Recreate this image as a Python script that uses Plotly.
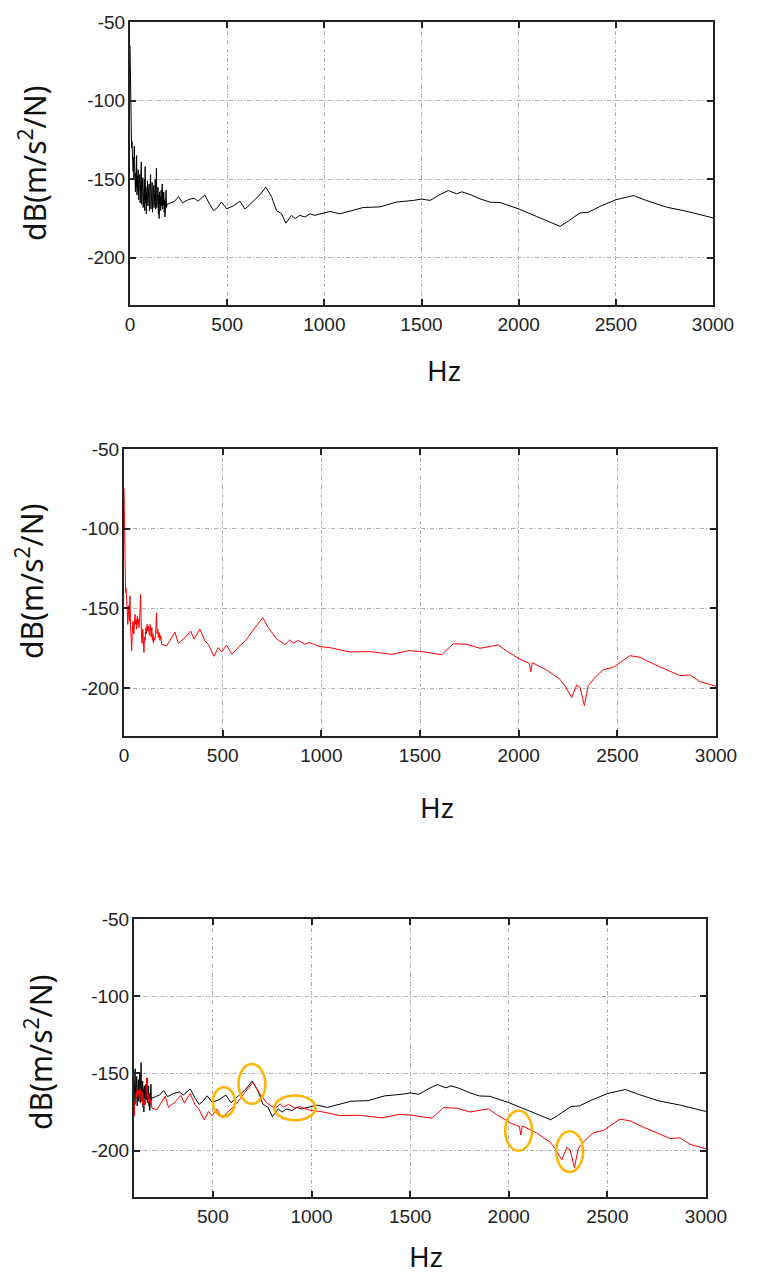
import plotly.graph_objects as go

# ---------------- data ----------------
black_low_hz = [0, 2, 4, 6, 8, 10, 12, 14, 16, 18, 20, 22, 24, 26, 28, 30, 32, 34, 36, 38,
                40, 42, 44, 46, 48, 50, 52, 54, 56, 58, 60, 62, 64, 66, 68, 70, 72, 74, 76,
                78, 80, 82, 84, 86, 88, 90, 92, 94, 96, 98, 100, 102, 104, 106, 108, 110,
                112, 114, 116, 118, 120, 122, 124, 126, 128, 130, 132, 134, 136, 138, 140,
                142, 144, 146, 148, 150, 152, 154, 156, 158, 160, 162, 164, 166, 168, 170,
                172, 174, 176, 178, 180, 182, 184, 186, 188]
black_low_db = [-65, -95, -112, -121, -130, -126, -138, -131, -145, -136, -150, -129, -152,
                -140, -158, -146, -155, -135, -160, -148, -157, -144, -163, -150, -158, -147,
                -165, -153, -160, -139, -166, -152, -161, -149, -168, -155, -163, -150, -170,
                -142, -165, -155, -172, -158, -164, -151, -167, -156, -162, -153, -170, -158,
                -164, -147, -169, -156, -163, -152, -171, -158, -165, -154, -168, -160, -166,
                -150, -169, -157, -143, -168, -159, -166, -155, -172, -160, -175, -158, -166,
                -161, -170, -157, -167, -160, -153, -169, -161, -166, -158, -171, -163, -174,
                -160, -167, -157, -168]
black_high_hz = [190, 210, 230, 250, 270, 300, 330, 350, 370, 385, 410, 430, 450, 471, 497,
                 531, 566, 592, 634, 668, 699, 728, 754, 780, 802, 831, 850, 874, 900, 926,
                 950, 977, 1029, 1080, 1149, 1200, 1286, 1372, 1458, 1500, 1544, 1596, 1638,
                 1681, 1707, 1750, 1801, 1853, 1904, 1998, 2093, 2213, 2247, 2316, 2359,
                 2419, 2501, 2591, 2659, 2762, 2865, 3000]
black_high_db = [-166, -165, -164, -161, -165, -163, -162, -164, -162, -160, -166, -170,
                 -168, -164.5, -168.8, -167, -164, -169, -164, -160, -155, -161, -170, -172,
                 -178, -173, -175, -173, -174, -172, -173, -172, -170.5, -172, -169.5, -168,
                 -167.6, -164.5, -163.5, -162.6, -163.5, -159.7, -157.2, -159.3, -158,
                 -159.7, -162.5, -164.6, -164.8, -168.8, -173.7, -180, -177.3, -171.4, -171,
                 -167.3, -163, -160.4, -163.6, -167.8, -170.4, -174.6]

red_low_hz = [0, 2, 4, 6, 8, 10, 13, 16, 19, 22, 25, 28, 30, 33, 36, 39, 42, 45, 47, 50,
              53, 56, 59, 62, 64, 67, 70, 73, 76, 79, 82, 84, 86, 89, 92, 95, 98, 101, 104,
              107, 111, 114, 117, 120, 123, 126, 129, 132, 135, 138, 141, 144, 147, 149,
              152, 156, 160, 163, 165, 168, 171, 174, 178, 182, 186]
red_low_db = [-74.6, -100, -121.5, -128, -140, -137, -142, -150, -160, -154.8, -148, -158,
              -142, -160, -168, -176.6, -165, -158, -161, -166, -155, -153.7, -160, -157,
              -163, -155, -160, -156.9, -162, -158, -150, -141.2, -160, -169, -172, -163,
              -170, -177.7, -168, -170, -162, -166, -160, -164, -161, -163, -167, -160,
              -165.2, -168, -162, -170, -166, -171.5, -168, -170, -166, -160, -152.7, -166,
              -163, -168.3, -165, -170, -167]
red_high_hz = [191, 216, 258, 275, 309, 338, 355, 385, 410, 427, 456, 478, 495, 520, 546,
               571, 622, 655, 703, 731, 774, 816, 841, 858, 883, 917, 939, 993, 1044, 1145,
               1247, 1357, 1442, 1500, 1610, 1669, 1737, 1804, 1897, 1939, 2007, 2054, 2061,
               2069, 2142, 2209, 2235, 2269, 2294, 2311, 2333, 2353, 2387, 2429, 2480, 2564,
               2615, 2683, 2767, 2817, 2868, 2919, 3000]
red_high_db = [-172.5, -173.5, -164.8, -171.9, -168.3, -164.2, -169.2, -163, -170.4, -172.5,
               -180, -174.6, -177.3, -173, -178.7, -175.6, -169.2, -163.5, -155.8, -162,
               -169.2, -172.7, -169.7, -171.8, -170, -172.5, -171.4, -173.9, -174.6, -177.3,
               -177.1, -178.8, -176.5, -176.9, -179, -172.1, -172.5, -175, -172.9, -176.7,
               -181.9, -184.4, -189.8, -184, -188.6, -194.4, -198.6, -205.9, -198, -199.5,
               -210.9, -198.4, -193.2, -188.4, -186.9, -179.6, -180.7, -184.8, -189.6,
               -192.1, -191.7, -195.9, -198.8]

black_hz = black_low_hz + black_high_hz
black_db = black_low_db + black_high_db
red_hz = red_low_hz + red_high_hz
red_db = red_low_db + red_high_db

# highlighted regions in the comparison plot (centre Hz, centre dB, half-width Hz, half-height dB)
mark_hz = [556, 698, 916, 2050, 2309]
mark_db = [-168.4, -156.8, -172.3, -187.1, -200.6]
mark_hw = [56, 68, 104, 68, 68]
mark_hh = [9.4, 12.9, 8.0, 12.9, 13.2]

x_ticks = [0, 500, 1000, 1500, 2000, 2500, 3000]
x_tick_labels = ["0", "500", "1000", "1500", "2000", "2500", "3000"]
y_ticks = [-50, -100, -150, -200]
y_tick_labels = ["-50", "-100", "-150", "-200"]

# ---------------- figure ----------------
# page body has an 8px margin, so the figure is placed inside it
OFF = 8
W, H = 761 - 2 * OFF, 1286 - 2 * OFF
fig = go.Figure()
fig.add_trace(go.Scatter(x=black_hz, y=black_db, mode="lines",
                         line=dict(color="#000000", width=1), xaxis="x", yaxis="y"))
fig.add_trace(go.Scatter(x=red_hz, y=red_db, mode="lines",
                         line=dict(color="#ff0000", width=1), xaxis="x2", yaxis="y2"))
fig.add_trace(go.Scatter(x=black_hz, y=black_db, mode="lines",
                         line=dict(color="#000000", width=1), xaxis="x3", yaxis="y3"))
fig.add_trace(go.Scatter(x=red_hz, y=red_db, mode="lines",
                         line=dict(color="#ff0000", width=1), xaxis="x3", yaxis="y3"))


def px_dom(a, b, total, flip=False):
    a, b = a - OFF, b - OFF
    if flip:
        return [1 - b / total, 1 - a / total]
    return [a / total, b / total]


tickfont = dict(family="Liberation Sans, Arial", size=19, color="#222222")
common_ax = dict(showline=True, linecolor="#222222", linewidth=2, mirror="allticks",
                 ticks="inside", ticklen=6, tickwidth=2, tickcolor="#222222",
                 showgrid=True, gridcolor="#b0b0b0", gridwidth=1,
                 griddash="4px,2px,1px,2px", zeroline=False, tickfont=tickfont,
                 automargin=False)

panels = [
    # (x px range, y px range, x range)
    ((130, 713), (22, 305), [0, 3000]),
    ((124, 716), (449, 736), [0, 3000]),
    ((134, 706), (919, 1197), [100, 3000]),
]
layout_axes = {}
for i, ((x0, x1), (y0, y1), xr) in enumerate(panels):
    sfx = "" if i == 0 else str(i + 1)
    tv = [t for t in x_ticks if t >= xr[0]]
    tt = [lab for t, lab in zip(x_ticks, x_tick_labels) if t >= xr[0]]
    layout_axes["xaxis" + sfx] = dict(common_ax, domain=px_dom(x0, x1, W), range=xr,
                                      tickvals=tv, ticktext=tt,
                                      anchor="y" + sfx, ticklabelstandoff=1)
    layout_axes["yaxis" + sfx] = dict(common_ax, domain=px_dom(y0, y1, H, flip=True),
                                      range=[-230, -50], tickvals=y_ticks,
                                      ticktext=y_tick_labels,
                                      anchor="x" + sfx, ticklabelstandoff=-1)

fig.update_layout(**layout_axes)

title_font = dict(family="Noto Sans, DejaVu Sans", size=30, color="#111111")
hz_font = dict(family="Noto Sans, DejaVu Sans", size=28, color="#111111")
ytitle_pos = [(33, 163), (30, 581), (39, 1052)]
xtitle_pos = [(444, 370), (437, 807), (426, 1256)]
annotations = []
for (xp, yp) in ytitle_pos:
    annotations.append(dict(text="dB(m/s<sup>2</sup>/N)", x=(xp - OFF) / W,
                            y=1 - (yp - OFF) / H,
                            xref="paper", yref="paper", showarrow=False, textangle=-90,
                            xanchor="center", yanchor="middle", font=title_font))
for (xp, yp) in xtitle_pos:
    annotations.append(dict(text="Hz", x=(xp - OFF) / W, y=1 - (yp - OFF) / H,
                            xref="paper", yref="paper",
                            showarrow=False, xanchor="center", yanchor="middle",
                            font=hz_font))

shapes = []
for cx, cy, hw, hh in zip(mark_hz, mark_db, mark_hw, mark_hh):
    shapes.append(dict(type="circle", xref="x3", yref="y3", x0=cx - hw, x1=cx + hw,
                       y0=cy - hh, y1=cy + hh, line=dict(color="#FFB400", width=2.5)))

fig.update_layout(width=W, height=H, margin=dict(l=0, r=0, t=0, b=0),
                  paper_bgcolor="white", plot_bgcolor="white", showlegend=False,
                  annotations=annotations, shapes=shapes)

fig.write_html("out.html")
